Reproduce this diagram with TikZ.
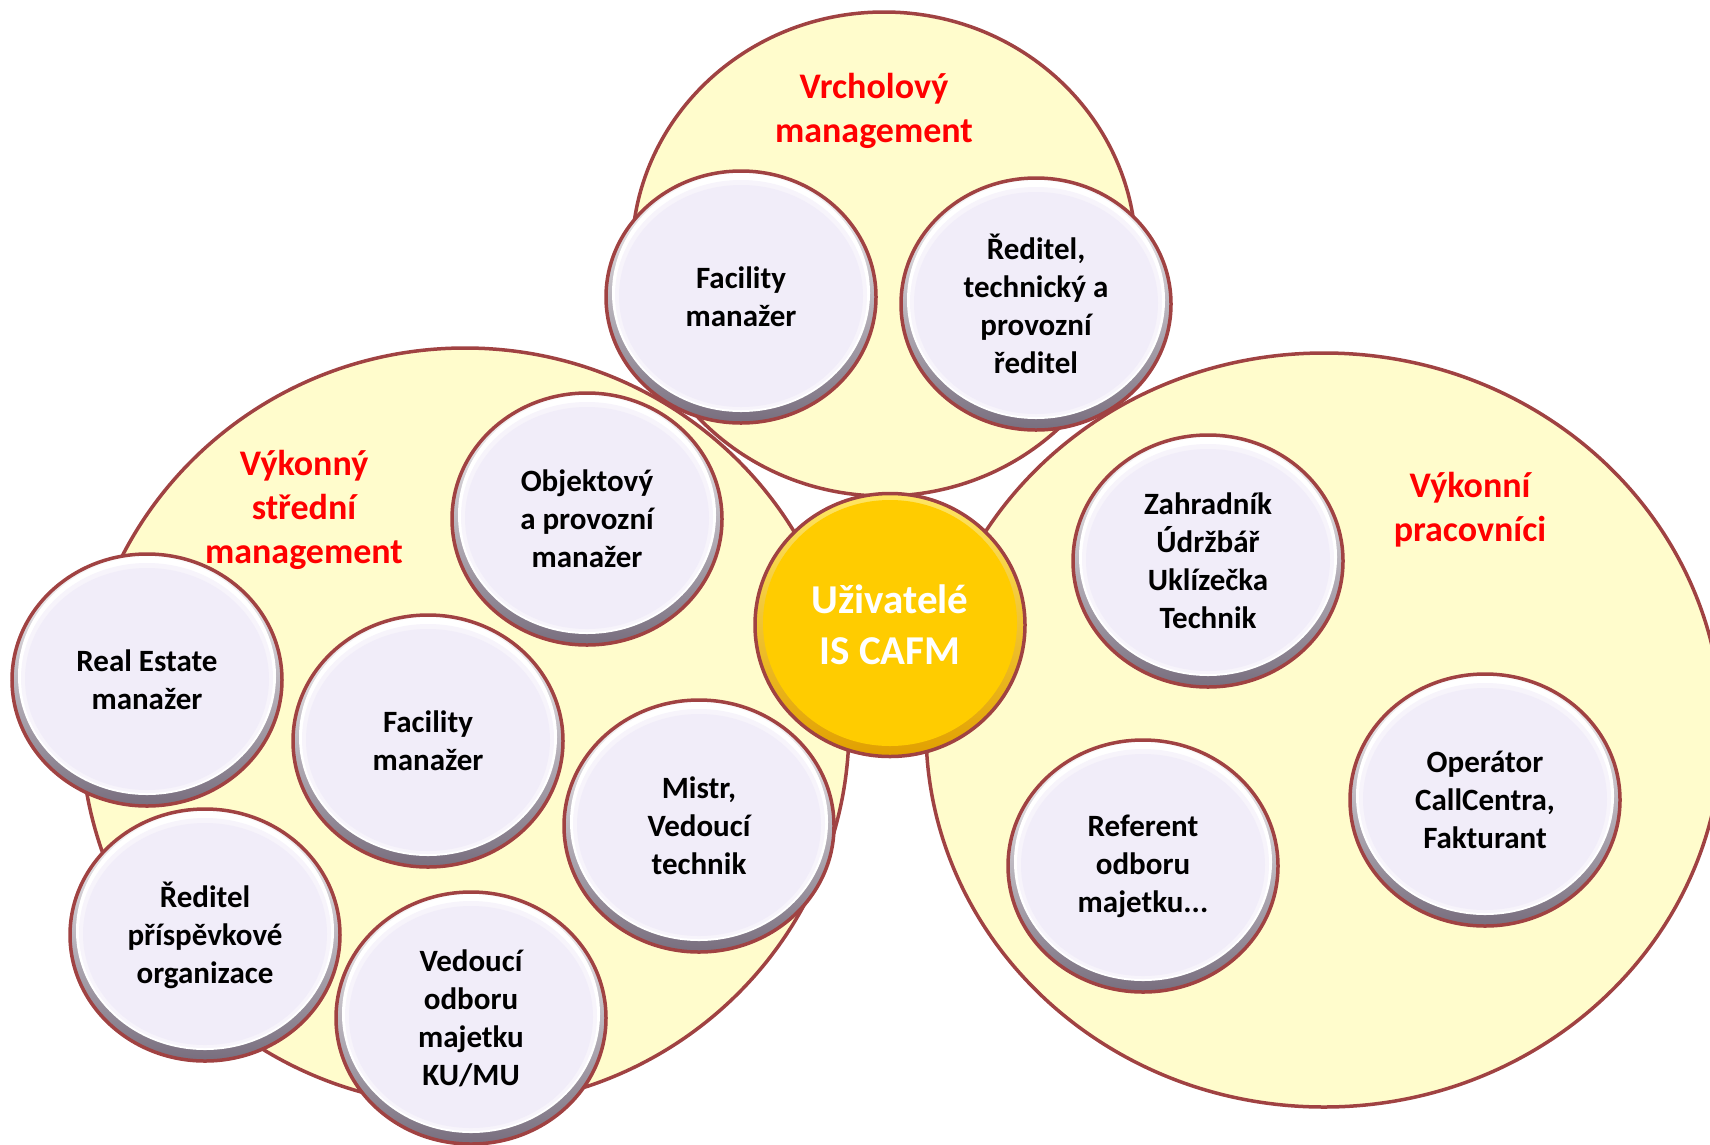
\documentclass[tikz,border=0pt]{standalone}
\usepackage{fontspec}
\setmainfont{Carlito}
\usetikzlibrary{shapes.geometric}
\definecolor{bigfill}{RGB}{255,252,204}
\definecolor{rimred}{RGB}{160,66,66}
\definecolor{lav}{RGB}{241,237,249}
\definecolor{rimdark}{RGB}{120,110,126}
\definecolor{gold}{RGB}{255,204,0}
\definecolor{goldlight}{RGB}{255,230,100}
\definecolor{golddark}{RGB}{225,160,0}
\definecolor{titlered}{RGB}{255,0,0}
\tikzset{
  bigzone/.style={ellipse, inner sep=0pt, fill=bigfill, draw=rimred, line width=3.5pt},
  bubble/.style={ellipse, inner sep=0pt, minimum width=270pt, minimum height=252pt,
    draw=rimred, line width=3.5pt, top color=white, bottom color=rimdark,
    align=center, font=\bfseries\fontsize{31}{38}\selectfont, text=black,
    path picture={
      \fill[white] ([yshift=4pt]path picture bounding box.center) ellipse [x radius=129pt, y radius=119pt];
      \fill[lav!60!white] ([yshift=2pt]path picture bounding box.center) ellipse [x radius=126pt, y radius=115pt];
      \fill[lav] ([yshift=1pt]path picture bounding box.center) ellipse [x radius=122pt, y radius=111pt];
    }},
  hub/.style={ellipse, inner sep=0pt, minimum width=270pt, minimum height=263pt,
    draw=rimred, line width=3.5pt, top color=goldlight, bottom color=golddark,
    align=center, font=\bfseries\fontsize{41}{51}\selectfont, text=white,
    path picture={
      \fill[gold] ([yshift=2pt]path picture bounding box.center) ellipse [x radius=127pt, y radius=123pt];
    }},
  zonetitle/.style={align=center, text=titlered, font=\bfseries\fontsize{36}{44}\selectfont}
}
\begin{document}
\begin{tikzpicture}[x=1pt,y=-1pt]
\useasboundingbox (0,0) rectangle (1710,1144);
\begin{scope}
\clip (0,0) rectangle (1710,1144);
% big zones
\node[bigzone, minimum width=504pt, minimum height=484pt] (ztop) at (884,254) {};
\node[bigzone, minimum width=768pt, minimum height=758pt] (zleft) at (465,727) {};
\node[bigzone, minimum width=796pt, minimum height=754pt] (zright) at (1324,730) {};

% titles
\node[zonetitle] (ttop) at (874,111) {Vrcholový\\management};
\node[zonetitle] (tleft) at (304,510) {Výkonný\\střední\\management};
\node[zonetitle] (tright) at (1470,510) {Výkonní\\pracovníci};

% bubbles
\node[bubble] (b1) at (741,297) {Facility\\manažer};
\node[bubble] (b2) at (1036,304) {Ředitel,\\technický a\\provozní\\ředitel};
\node[bubble] (b3) at (587,519) {Objektový\\a provozní\\manažer};
\node[bubble] (b5) at (1208,561) {Zahradník\\Údržbář\\Uklízečka\\Technik};
\node[bubble] (b6) at (147,680) {Real Estate\\manažer};
\node[bubble] (b7) at (428,741) {Facility\\manažer};
\node[bubble] (b8) at (699,826) {Mistr,\\Vedoucí\\technik};
\node[bubble] (b9) at (205,935) {Ředitel\\příspěvkové\\organizace};
\node[bubble] (b10) at (471,1018) {Vedoucí\\odboru\\majetku\\KU/MU};
\node[bubble] (b11) at (1143,866) {Referent\\odboru\\majetku...};
\node[bubble] (b12) at (1485,800) {Operátor\\CallCentra,\\Fakturant};

% hub
\node[hub] (hub) at (890,625) {Uživatelé\\IS CAFM};
\end{scope}
\end{tikzpicture}
\end{document}
